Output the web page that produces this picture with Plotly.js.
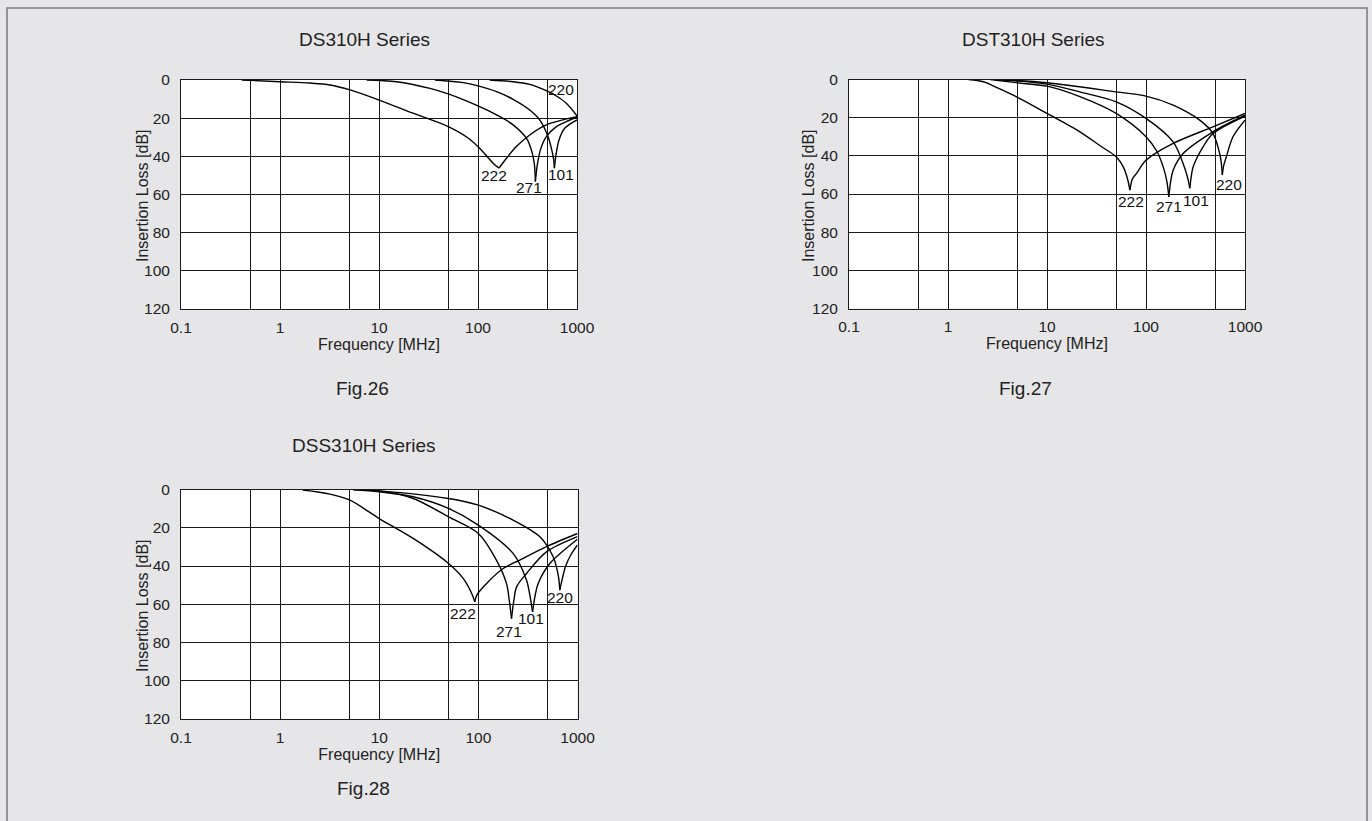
<!DOCTYPE html>
<html><head><meta charset="utf-8">
<script src="https://cdn.plot.ly/plotly-3.0.1.min.js"></script>
<style>html,body{margin:0;padding:0;background:#e6e6e8;} #chart{width:1372px;height:821px;}</style>
</head><body><div id="chart"></div>
<script>
// ---------- tick / grid values ----------
const xTickVals = [0.1, 1, 10, 100, 1000];
const xTickText = ['0.1', '1', '10', '100', '1000'];
const xMinorGridVals = [0.5, 5, 50, 500];
const yTickVals = [0, 20, 40, 60, 80, 100, 120];
const seriesNames = ['222', '271', '101', '220'];
const figTitles = ['DS310H Series', 'DST310H Series', 'DSS310H Series'];
const figCaptions = ['Fig.26', 'Fig.27', 'Fig.28'];
const xTitle = 'Frequency [MHz]';
const yTitle = 'Insertion Loss [dB]';

// ---------- Fig.26  DS310H (frequency MHz, insertion loss dB) ----------
const ds_222_f  = [0.41, 1.0, 2.0, 3.2, 5.1, 10, 22, 50, 80, 104, 142, 163, 194, 244, 333, 490, 723, 1000];
const ds_222_db = [0, 0.9, 1.6, 2.6, 5.2, 10.5, 17.4, 24.4, 30.5, 35.8, 43.6, 46.2, 41, 34.9, 28.8, 23.5, 20.9, 19.2];
const ds_271_f  = [7.5, 15, 32.7, 50, 100, 154, 226, 308, 346, 370, 380, 395, 427, 490, 619, 780, 1000];
const ds_271_db = [0, 0.9, 4.4, 7.3, 13.6, 18.3, 23.5, 30.5, 36.6, 43.6, 53.2, 45.4, 36.6, 29.7, 24.4, 21.8, 19.5];
const ds_101_f  = [36.7, 70.8, 100, 154, 226, 333, 420, 510, 556, 582, 591, 610, 658, 751, 1000];
const ds_101_db = [0, 1.4, 3.1, 6.1, 10.1, 15.7, 20.9, 29.7, 36.6, 41.9, 46.2, 40.1, 31.4, 25.3, 20.9];
const ds_220_f  = [131, 226, 333, 490, 619, 780, 1000];
const ds_220_db = [0, 0.9, 2.3, 5.6, 8.4, 12.2, 18.8];

// ---------- Fig.27  DST310H ----------
const dst_222_f  = [1.61, 2.28, 3.2, 4.94, 10, 21.5, 35, 50, 58.9, 65, 68.7, 73, 80, 100, 188, 475, 1000];
const dst_222_db = [0, 1.2, 4.5, 9.1, 17.8, 27.4, 35, 40.5, 45.8, 52, 58, 52, 49.3, 42.3, 33.5, 24.8, 17.8];
const dst_271_f  = [2.67, 5.77, 10, 21.5, 50, 100, 130, 149, 162, 170, 178, 188, 237, 475, 1000];
const dst_271_db = [0, 2.1, 3.5, 9, 17.8, 30, 38, 45.8, 53, 61.5, 53, 47.5, 38.8, 27.4, 18.7];
const dst_101_f  = [3.1, 10, 21.5, 50, 100, 188, 244, 265, 277, 288, 299, 377, 475, 1000];
const dst_101_db = [0, 2.4, 6.5, 11.7, 20.4, 32.7, 45.8, 52, 57, 50, 45.8, 35.3, 28.3, 19.2];
const dst_220_f  = [3.1, 10, 50, 100, 188, 349, 475, 555, 580, 590, 610, 648, 756, 1000];
const dst_220_db = [0, 1.7, 6.5, 8.7, 13.4, 21.3, 28.3, 38.8, 45, 50, 45, 40.5, 30, 21.3];

// ---------- Fig.28  DSS310H ----------
const dss_222_f  = [1.69, 3.18, 5.06, 10, 22, 50, 70.3, 85, 92, 97, 121, 178, 262, 486, 1000];
const dss_222_db = [0.3, 2.4, 5.6, 15.2, 25.6, 38.7, 46.5, 54, 58.7, 55, 49.1, 41.3, 36.9, 29.9, 23];
const dss_271_f  = [5.47, 10, 22, 50, 100, 152, 192, 205, 216, 228, 243, 306, 486, 1000];
const dss_271_db = [0, 0.7, 4.7, 14.3, 23, 36.9, 49.1, 58, 67.5, 58, 50.9, 43.9, 32.6, 24.6];
const dss_101_f  = [5.47, 10, 22, 50, 100, 224, 306, 330, 352, 375, 401, 526, 1000];
const dss_101_db = [0, 1.2, 3.8, 9.9, 18.6, 33.4, 47.4, 55, 64, 55, 49.1, 38.7, 26];
const dss_220_f  = [5.47, 10, 50, 100, 224, 417, 568, 640, 663, 700, 760, 860, 1000];
const dss_220_db = [0, 0.7, 4.7, 8.2, 16, 24.7, 35.2, 45, 52.6, 47, 40, 34, 29];

// ---------- curve label anchors (frequency, dB) ----------
const ds_labelF  = [146, 328, 684, 695];
const ds_labelDb = [50.2, 56.2, 49.7, 4.9];
const dst_labelF  = [70.3, 171, 323, 690];
const dst_labelDb = [64.1, 66.7, 63.6, 54.8];
const dss_labelF  = [70.3, 205, 338, 663];
const dss_labelDb = [64.8, 74.4, 67.4, 56.4];

const figs = [
  {ax: '', series: [[ds_222_f, ds_222_db], [ds_271_f, ds_271_db], [ds_101_f, ds_101_db], [ds_220_f, ds_220_db]],
   lf: ds_labelF, ldb: ds_labelDb},
  {ax: '2', series: [[dst_222_f, dst_222_db], [dst_271_f, dst_271_db], [dst_101_f, dst_101_db], [dst_220_f, dst_220_db]],
   lf: dst_labelF, ldb: dst_labelDb},
  {ax: '3', series: [[dss_222_f, dss_222_db], [dss_271_f, dss_271_db], [dss_101_f, dss_101_db], [dss_220_f, dss_220_db]],
   lf: dss_labelF, ldb: dss_labelDb}
];

const W = 1372, H = 821;
const FONT = 'Liberation Sans, Arial, Helvetica, sans-serif';
const ink = '#1a1a1a';

const traces = [];
const annotations = [];
figs.forEach((fg, k) => {
  fg.series.forEach((s, j) => {
    const f = s[0], db = s[1];
    // split at the resonance dip so the cusp stays sharp
    let iMax = 0;
    db.forEach((v, i) => { if (v > db[iMax]) iMax = i; });
    const parts = iMax < db.length - 1 ? [[0, iMax + 1], [iMax, db.length]] : [[0, db.length]];
    parts.forEach(p => {
      traces.push({
        type: 'scatter', mode: 'lines', name: seriesNames[j],
        x: f.slice(p[0], p[1]), y: db.slice(p[0], p[1]),
        xaxis: 'x' + fg.ax, yaxis: 'y' + fg.ax,
        line: {color: '#000', width: 1.4, shape: 'spline', smoothing: 0.9},
        hoverinfo: 'x+y', showlegend: false
      });
    });
    annotations.push({
      xref: 'x' + fg.ax, yref: 'y' + fg.ax,
      x: Math.log10(fg.lf[j]), y: fg.ldb[j],
      text: seriesNames[j], showarrow: false,
      font: {family: FONT, size: 15.5, color: '#111'}
    });
  });
});

// titles, captions and y-axis titles (pixel positions converted to paper fractions)
const px = v => v / W, py = v => 1 - v / H;
const titlePos = [[364, 40], [1033, 40], [364, 446]];
const capPos = [[362, 388], [1025, 388], [363, 788]];
const yTitlePos = [[143, 196], [809, 196], [142, 606]];
figTitles.forEach((t, i) => annotations.push({
  xref: 'paper', yref: 'paper', x: px(titlePos[i][0]), y: py(titlePos[i][1]),
  text: t, showarrow: false, xanchor: 'center', yanchor: 'middle',
  font: {family: FONT, size: 19, color: '#222'}
}));
figCaptions.forEach((t, i) => annotations.push({
  xref: 'paper', yref: 'paper', x: px(capPos[i][0]), y: py(capPos[i][1]),
  text: t, showarrow: false, xanchor: 'center', yanchor: 'middle',
  font: {family: FONT, size: 19, color: '#222'}
}));
yTitlePos.forEach(p => annotations.push({
  xref: 'paper', yref: 'paper', x: px(p[0]), y: py(p[1]),
  text: yTitle, showarrow: false, textangle: -90, xanchor: 'center', yanchor: 'middle',
  font: {family: FONT, size: 16, color: '#222'}
}));

function xAxis(domain, anchor) {
  return {
    type: 'log', range: [-1, 3], domain: domain, anchor: anchor,
    tickmode: 'array', tickvals: xTickVals, ticktext: xTickText,
    showgrid: true, gridcolor: ink, gridwidth: 1,
    minor: {tickmode: 'array', tickvals: xMinorGridVals, showgrid: true, gridcolor: ink, gridwidth: 1, ticks: ''},
    showline: true, mirror: true, linecolor: ink, linewidth: 1,
    zeroline: false, ticks: '', ticklabelstandoff: 4,
    tickfont: {family: FONT, size: 15.5, color: '#222'},
    title: {text: xTitle, font: {family: FONT, size: 16, color: '#222'}, standoff: 1},
    fixedrange: true
  };
}
function yAxis(domain, anchor) {
  return {
    range: [120, 0], domain: domain, anchor: anchor,
    tickmode: 'array', tickvals: yTickVals,
    showgrid: true, gridcolor: ink, gridwidth: 1,
    showline: true, mirror: true, linecolor: ink, linewidth: 1,
    zeroline: false, ticks: '', ticklabelstandoff: 7,
    tickfont: {family: FONT, size: 15.5, color: '#222'},
    fixedrange: true
  };
}

const layout = {
  width: W, height: H,
  margin: {l: 0, r: 0, t: 0, b: 0},
  paper_bgcolor: '#e6e6e8', plot_bgcolor: '#ffffff',
  font: {family: FONT, color: '#222'},
  showlegend: false,
  xaxis:  xAxis([px(181), px(577)], 'y'),
  yaxis:  yAxis([py(309), py(80)], 'x'),
  xaxis2: xAxis([px(849), px(1245)], 'y2'),
  yaxis2: yAxis([py(308.5), py(79.5)], 'x2'),
  xaxis3: xAxis([px(181), px(577.5)], 'y3'),
  yaxis3: yAxis([py(719), py(489.5)], 'x3'),
  annotations: annotations,
  shapes: [{
    type: 'rect', xref: 'paper', yref: 'paper',
    x0: px(7), x1: px(1367), y0: -0.1, y1: py(8),
    line: {color: '#7b7b7b', width: 1.5}, fillcolor: 'rgba(0,0,0,0)', layer: 'above'
  }]
};

Plotly.newPlot('chart', traces, layout, {displayModeBar: false, staticPlot: true});
</script>
</body></html>
